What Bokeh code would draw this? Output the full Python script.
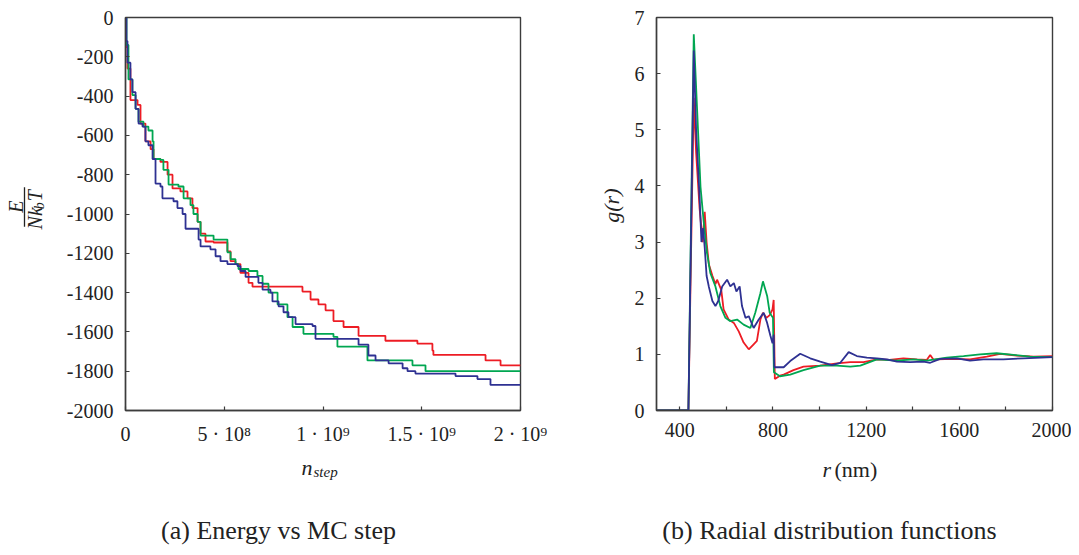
import numpy as np
from bokeh.plotting import figure
from bokeh.layouts import row, column
from bokeh.models import Label, FixedTicker, Range1d
from bokeh.embed import file_html
from bokeh.resources import INLINE

# ---------------- data: energy vs MC step (x in units of 1e9 steps) -------------
red_step = [0, 0.003, 0.010, 0.025, 0.061, 0.076, 0.101, 0.127, 0.142, 0.177, 0.213, 0.238,
            0.278, 0.314, 0.339, 0.365, 0.380, 0.405, 0.446, 0.516, 0.532, 0.557, 0.582, 0.623,
            0.643, 0.896, 0.937, 0.977, 1.013, 1.053, 1.104, 1.180, 1.316, 1.478, 1.554, 1.559,
            1.823, 1.899, 2.0]
red_E = [0, -150, -260, -420, -445, -540, -630, -670, -720, -735, -800, -870,
         -885, -920, -970, -1040, -1100, -1140, -1145, -1190, -1240, -1255, -1300, -1350,
         -1370, -1395, -1435, -1460, -1490, -1545, -1575, -1620, -1645, -1660, -1695, -1717,
         -1745, -1770, -1770]

green_step = [0, 0.005, 0.015, 0.035, 0.051, 0.066, 0.091, 0.116, 0.137, 0.142, 0.177, 0.192,
              0.218, 0.268, 0.294, 0.329, 0.344, 0.365, 0.380, 0.446, 0.516, 0.532, 0.557, 0.572,
              0.623, 0.668, 0.694, 0.724, 0.770, 0.820, 0.846, 0.901, 1.053, 1.073, 1.225, 1.453,
              1.519, 2.0]
green_E = [0, -140, -315, -395, -465, -530, -555, -575, -630, -720, -725, -775,
           -850, -860, -920, -955, -1000, -1040, -1110, -1130, -1195, -1230, -1255, -1280,
           -1290, -1315, -1355, -1400, -1460, -1525, -1575, -1610, -1625, -1675, -1745, -1770,
           -1800, -1800]

blue_step = [0, 0.005, 0.010, 0.025, 0.035, 0.051, 0.066, 0.086, 0.101, 0.116, 0.137, 0.152,
             0.177, 0.187, 0.243, 0.263, 0.289, 0.304, 0.370, 0.380, 0.430, 0.456, 0.481, 0.516,
             0.567, 0.582, 0.608, 0.673, 0.694, 0.734, 0.744, 0.775, 0.800, 0.825, 0.861, 0.947,
             0.962, 1.180, 1.230, 1.266, 1.332, 1.403, 1.428, 1.468, 1.671, 1.782, 1.848, 2.0]
blue_E = [0, -120, -230, -315, -380, -465, -540, -555, -630, -650, -720, -845,
          -860, -920, -935, -970, -1000, -1075, -1130, -1165, -1180, -1215, -1240, -1255,
          -1265, -1290, -1320, -1350, -1385, -1400, -1445, -1470, -1500, -1525, -1560, -1570,
          -1635, -1665, -1720, -1745, -1760, -1785, -1800, -1812, -1825, -1840, -1870, -1870]

E_ticks = [0, -200, -400, -600, -800, -1000, -1200, -1400, -1600, -1800, -2000]
step_ticks = [0, 500000000, 1000000000, 1500000000, 2000000000]
step_labels = ["0", "5 · 10⁸", "1 · 10⁹", "1.5 · 10⁹", "2 · 10⁹"]

# ---------------- data: radial distribution functions -------------
red_r = [300, 437, 447, 460, 470, 485, 498, 507, 515, 525, 540, 553, 560, 578, 588, 610, 632,
         653, 674, 696, 717, 731, 746, 757, 772, 786, 798, 803, 808, 830, 846, 888, 931, 1003,
         1075, 1132, 1189, 1246, 1300, 1360, 1418, 1460, 1475, 1490, 1503, 1575, 1646, 1718,
         1775, 1846, 1918, 2000]
red_g = [0, 0, 2.5, 5.57, 4.6, 3.6, 3.0, 3.54, 3.0, 2.6, 2.4, 2.25, 2.33, 2.15, 1.80, 1.62, 1.56,
         1.41, 1.21, 1.09, 1.18, 1.24, 1.62, 1.74, 1.65, 1.70, 1.8, 1.97, 0.56, 0.62, 0.64, 0.72,
         0.78, 0.80, 0.84, 0.86, 0.86, 0.91, 0.90, 0.93, 0.91, 0.90, 0.99, 0.90, 0.91, 0.92, 0.91,
         0.96, 1.01, 0.98, 0.96, 0.97]

green_r = [300, 437, 447, 460, 475, 489, 502, 517, 531, 553, 574, 596, 617, 646, 674, 703, 724,
           746, 757, 775, 786, 800, 804, 830, 874, 931, 1003, 1075, 1132, 1175, 1246, 1332, 1403,
           1460, 1546, 1618, 1689, 1760, 1832, 1903, 2000]
green_g = [0, 0, 3.0, 6.70, 5.3, 3.98, 3.39, 2.80, 2.45, 2.21, 1.86, 1.65, 1.59, 1.62, 1.53, 1.47,
           1.74, 2.09, 2.30, 2.04, 1.74, 1.65, 0.68, 0.61, 0.64, 0.72, 0.80, 0.80, 0.78, 0.80, 0.91,
           0.89, 0.91, 0.89, 0.94, 0.97, 1.00, 1.02, 0.99, 0.96, 0.95]

blue_r = [300, 437, 447, 460, 470, 485, 493, 500, 507, 515, 525, 540, 553, 565, 582, 603, 617, 632,
          643, 657, 667, 682, 696, 717, 739, 760, 775, 789, 798, 803, 806, 846, 874, 917, 960, 1003,
          1053, 1089, 1125, 1160, 1203, 1246, 1289, 1332, 1389, 1446, 1475, 1518, 1589, 1646, 1703,
          1789, 1875, 2000]
blue_g = [0, 0, 2.8, 6.41, 5.0, 3.8, 3.0, 3.25, 2.9, 2.4, 2.2, 1.95, 1.86, 1.95, 2.21, 2.33, 2.21,
          2.27, 2.12, 2.21, 1.86, 1.65, 1.68, 1.47, 1.62, 1.74, 1.56, 1.33, 1.2, 1.35, 0.77, 0.77,
          0.88, 1.01, 0.93, 0.87, 0.81, 0.85, 1.04, 0.97, 0.94, 0.93, 0.91, 0.87, 0.86, 0.87, 0.85,
          0.92, 0.93, 0.89, 0.91, 0.91, 0.93, 0.95]

r_ticks = [400, 800, 1200, 1600, 2000]
r_minor = [600, 1000, 1400, 1800]
g_ticks = [0, 1, 2, 3, 4, 5, 6, 7]

captions = ["(a) Energy vs MC step", "(b) Radial distribution functions"]

RED, GREEN, BLUE = "#ED1C24", "#00A651", "#2E3192"
AX = "#3c3c3c"
TXT = "#222222"
FONT = "Liberation Serif"


def style(p):
    p.background_fill_color = "white"
    p.border_fill_color = "white"
    p.outline_line_color = AX
    p.outline_line_width = 1.4
    p.grid.visible = False
    for ax in (p.xaxis[0], p.yaxis[0]):
        ax.axis_line_color = AX
        ax.axis_line_width = 1.4
        ax.major_tick_line_color = AX
        ax.minor_tick_line_color = AX
        ax.major_tick_line_width = 1.2
        ax.minor_tick_line_width = 1.2
        ax.major_tick_in = 4
        ax.major_tick_out = 0
        ax.minor_tick_in = 4
        ax.minor_tick_out = 0
        ax.major_label_text_font = FONT
        ax.major_label_text_font_size = "20px"
        ax.major_label_text_color = TXT
        ax.major_label_standoff = 12


def text_fig(x0, x1, y0, y1):
    """A bare figure whose data coordinates are page pixels, used to hold text."""
    f = figure(width=x1 - x0, height=y1 - y0, x_range=Range1d(x0, x1), y_range=Range1d(y1, y0),
               output_backend="svg", toolbar_location=None, min_border=0,
               x_axis_location=None, y_axis_location=None)
    f.outline_line_color = None
    f.background_fill_color = "white"
    f.border_fill_color = "white"
    f.grid.visible = False
    return f


def add_label(p, x, y, text, size, style_="normal", angle=0, align="left", baseline="alphabetic"):
    p.add_layout(Label(x=x, y=y, text=text, text_font=FONT, text_font_size=size,
                       text_font_style=style_, angle=angle, text_align=align,
                       text_baseline=baseline, text_color=TXT))


TOP_H = 447

# ---------------- left y label (fraction) ----------------
fa = text_fig(0, 50, 0, TOP_H)
add_label(fa, 15, 215, "E", "20px", "italic", angle=np.pi / 2, align="center", baseline="middle")
fa.segment(x0=[24], y0=[193], x1=[24], y1=[238], line_color=TXT, line_width=1.3)
add_label(fa, 34, 241, "Nk", "20px", "italic", angle=np.pi / 2, align="left", baseline="middle")
add_label(fa, 39, 218, "b", "14px", "italic", angle=np.pi / 2, align="left", baseline="middle")
add_label(fa, 34, 209, "T", "20px", "italic", angle=np.pi / 2, align="left", baseline="middle")

# ---------------- left panel ----------------
p1 = figure(width=500, height=TOP_H, output_backend="svg", toolbar_location=None,
            min_border_left=75, min_border_right=30, min_border_top=17, min_border_bottom=35,
            x_range=Range1d(0, 2e9), y_range=Range1d(-2000, 0))
style(p1)
p1.xaxis.ticker = FixedTicker(ticks=step_ticks, minor_ticks=[])
p1.xaxis.major_label_overrides = {k: v for k, v in zip(step_ticks, step_labels)}
p1.yaxis.ticker = FixedTicker(ticks=E_ticks, minor_ticks=[])
p1.yaxis.major_label_overrides = {k: str(k) for k in E_ticks}

for xs, ys, c in ((red_step, red_E, RED), (green_step, green_E, GREEN), (blue_step, blue_E, BLUE)):
    p1.step(np.array(xs) * 1e9, ys, mode="after", line_color=c, line_width=1.8)

# ---------------- right y label ----------------
fb = text_fig(550, 630, 0, TOP_H)
add_label(fb, 611, 214, "g(r)", "22px", "italic", angle=np.pi / 2, align="center", baseline="middle")

# ---------------- right panel ----------------
p2 = figure(width=441, height=TOP_H, output_backend="svg", toolbar_location=None,
            min_border_left=26, min_border_right=19, min_border_top=16, min_border_bottom=35,
            x_range=Range1d(300, 2000), y_range=Range1d(0, 7))
style(p2)
p2.xaxis.ticker = FixedTicker(ticks=r_ticks, minor_ticks=r_minor)
p2.yaxis.ticker = FixedTicker(ticks=g_ticks, minor_ticks=[])

for xs, ys, c in ((red_r, red_g, RED), (green_r, green_g, GREEN), (blue_r, blue_g, BLUE)):
    p2.line(xs, ys, line_color=c, line_width=1.8)

# ---------------- x labels and captions ----------------
fc = text_fig(0, 1071, TOP_H, 547)
add_label(fc, 301, 467, "n", "22px", "italic")
add_label(fc, 313, 471, "step", "15px", "italic")
add_label(fc, 822, 469, "r", "22px", "italic")
add_label(fc, 834, 469, "(nm)", "22px")
add_label(fc, 278, 530, captions[0], "26px", align="center", baseline="middle")
add_label(fc, 829, 530, captions[1], "26px", align="center", baseline="middle")

layout = column(row(fa, p1, fb, p2, spacing=0), fc, spacing=0)
open("out.html", "w").write(file_html(layout, INLINE))
